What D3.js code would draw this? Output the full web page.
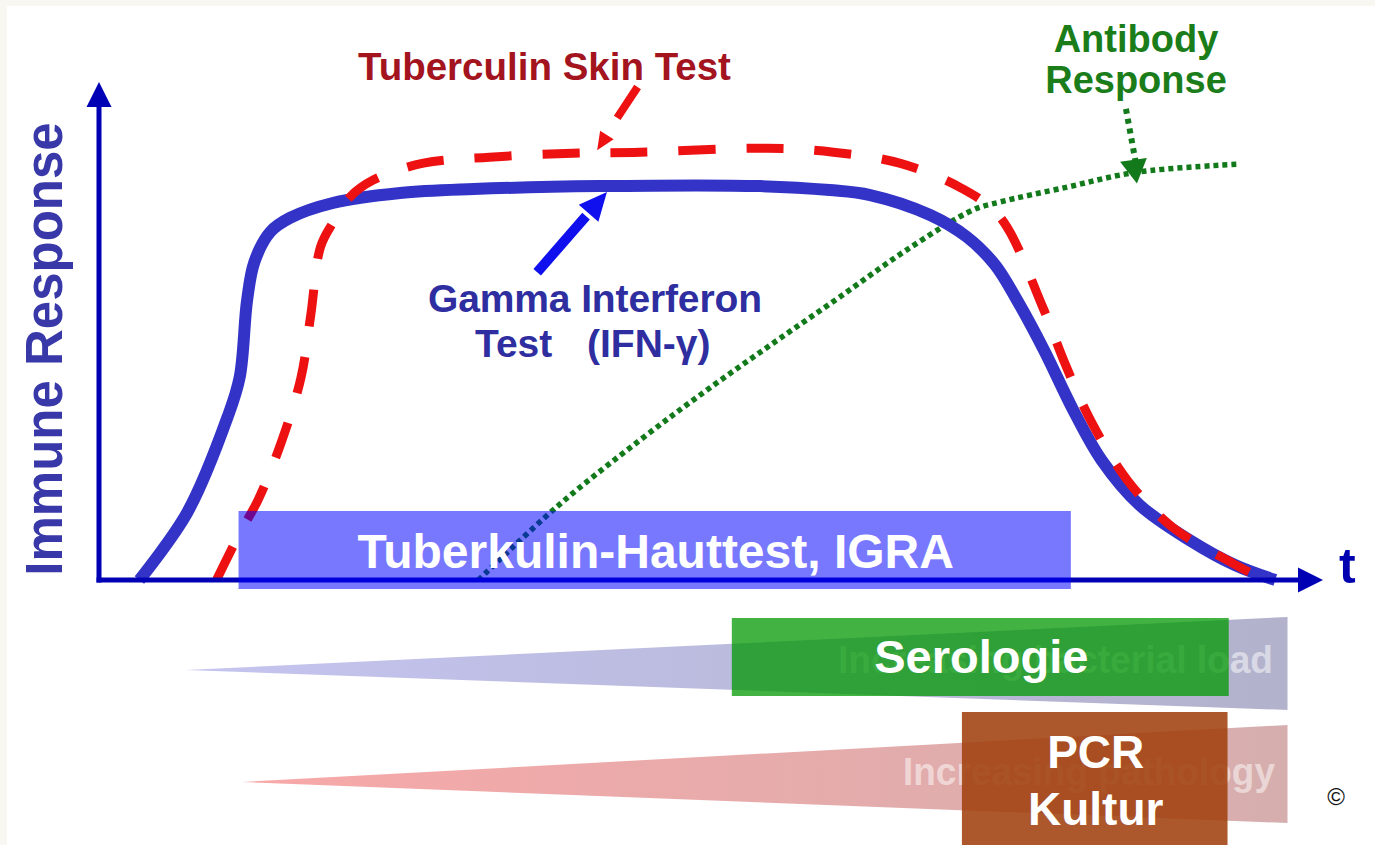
<!DOCTYPE html>
<html>
<head>
<meta charset="utf-8">
<script src="https://cdn.jsdelivr.net/npm/d3@7"></script>
<style>
  body { margin: 0; background: #fff; }
  svg { display: block; font-family: "Liberation Sans", Arial, sans-serif; font-weight: bold; }
</style>
</head>
<body>
<div id="chart-area"></div>
<script>
// time (0..100) and immune response (0..100)

// Gamma interferon test (solid blue)
let ifnT = [3.3, 7.2, 10.5, 11.5, 12.1, 12.7, 14.0, 15.6, 19.1, 24.6, 30.6, 40.9, 54.0, 59.7, 63.0, 67.9, 70.9, 73.2, 75.0, 77.2, 79.6, 81.9, 85.0, 89.1, 92.8, 96.1];
let ifnR = [0, 13.5, 32.7, 40.8, 56.2, 63.9, 69.9, 72.7, 75.7, 77.7, 78.5, 79.1, 79.1, 78.3, 77.3, 73.3, 68.9, 63.3, 56.2, 46.2, 34.1, 24.1, 15.1, 8.0, 3.0, 0];

// Tuberculin skin test (red dashed)
let tstT = [9.6, 11.5, 13.0, 14.9, 16.5, 17.3, 18.1, 19.1, 20.5, 22.4, 26.5, 31.9, 38.7, 44.2, 54.6, 60.0, 65.4, 70.3, 73.6, 77.1, 78.8, 81.0, 84.0, 87.7, 92.6, 94.9];
let tstR = [0, 9.4, 16.1, 27.7, 40.6, 53.2, 66.9, 71.7, 76.9, 80.3, 83.7, 84.9, 85.7, 85.9, 86.7, 85.9, 83.7, 78.9, 72.9, 54.8, 44.2, 32.1, 20.1, 10.6, 3.4, 0.4];

// Antibody response (green dotted)
let abT = [31.0, 37.4, 44.2, 49.7, 55.1, 60.5, 66.0, 71.4, 73.6, 79.1, 84.8, 93.2];
let abR = [0, 14.7, 28.1, 38.2, 47.6, 56.8, 66.3, 74.3, 75.9, 78.9, 81.9, 83.5];

// test windows on the time axis
let tests = ["Tuberkulin-Hauttest, IGRA", "Serologie", "PCR\nKultur"];
let testStart = [11.4, 51.7, 70.5];
let testEnd = [79.4, 92.3, 92.2];

// growing bands under the axis
let bands = ["Increasing bacterial load", "Increasing pathology"];
let bandStart = [7.1, 11.7];
let bandEnd = [97.1, 97.1];

// Variable
let w = 1375;
let h = 845;

let svg = d3.select("#chart-area")
    .append("svg")
    .attr("width", w)
    .attr("height", h);

// light frame at top/left
svg.append("rect").attr("width", w).attr("height", h).attr("fill", "#f8f7f2");
svg.append("rect").attr("x", 7).attr("y", 6).attr("width", w - 7).attr("height", h - 6).attr("fill", "#fff");

let x = d3.scaleLinear().domain([0, 100]).range([99, 1323]);
let y = d3.scaleLinear().domain([0, 100]).range([580, 82]);

let defs = svg.append("defs");
function grad(id, c1, c2) {
  let g = defs.append("linearGradient").attr("id", id);
  g.append("stop").attr("offset", "0%").attr("stop-color", c1);
  g.append("stop").attr("offset", "100%").attr("stop-color", c2);
}
grad("gBlue", "#c4c4f0", "#b2b2cc");
grad("gRed", "#f8a8a8", "#d6aeae");

// bands
let bandGeo = [
  {tip: 670, top: 617, bot: 710, fill: "url(#gBlue)", textEnd: 1273, base: 673, tlen: 435},
  {tip: 782, top: 725, bot: 823, fill: "url(#gRed)", textEnd: 1275, base: 785, tlen: 372}
];
bands.forEach(function(b, i) {
  let g = bandGeo[i];
  let x0 = x(bandStart[i]), x1 = x(bandEnd[i]);
  svg.append("polygon")
    .attr("points", [[x0, g.tip], [x1, g.top], [x1, g.bot]].join(" "))
    .attr("fill", g.fill);
  svg.append("text")
    .attr("x", g.textEnd - g.tlen)
    .attr("y", g.base)
    .attr("font-size", 39)
    .attr("textLength", g.tlen)
    .attr("lengthAdjust", "spacingAndGlyphs")
    .attr("fill", "#fff")
    .attr("fill-opacity", 0.5)
    .text(b);
});

// lines
function pts(ts, rs) { return ts.map(function(t, i) { return [t, rs[i]]; }); }
let line = d3.line()
    .x(function(d) { return x(d[0]); })
    .y(function(d) { return y(d[1]); })
    .curve(d3.curveCatmullRom.alpha(0.5));

svg.append("path")
    .attr("d", line(pts(abT, abR)))
    .attr("fill", "none")
    .attr("stroke", "#127a1a")
    .attr("stroke-width", 5.5)
    .attr("stroke-dasharray", "5,4");

svg.append("path")
    .attr("d", line(pts(ifnT, ifnR)))
    .attr("fill", "none")
    .attr("stroke", "#3333c8")
    .attr("stroke-width", 12)
    .attr("stroke-linejoin", "round");

svg.append("path")
    .attr("d", line(pts(tstT, tstR)))
    .attr("fill", "none")
    .attr("stroke", "#ee1111")
    .attr("stroke-width", 9)
    .attr("stroke-dasharray", "37,31");

// arrow heads
function head(x1, y1, x2, y2, len, wid) {
  let a = Math.atan2(y2 - y1, x2 - x1);
  let bx = x2 - len * Math.cos(a), by = y2 - len * Math.sin(a);
  let px = Math.sin(a) * wid / 2, py = -Math.cos(a) * wid / 2;
  return [[x2, y2], [bx + px, by + py], [bx - px, by - py]].join(" ");
}

// axes
let axCol = "#0000b4";
svg.append("line")
    .attr("x1", x(0)).attr("y1", y(0) + 2.5)
    .attr("x2", x(0)).attr("y2", y(100) + 22)
    .attr("stroke", axCol).attr("stroke-width", 5);
svg.append("polygon").attr("points", head(x(0), y(0), x(0), y(100), 25, 25)).attr("fill", axCol);
svg.append("line")
    .attr("x1", x(0) - 2.5).attr("y1", y(0))
    .attr("x2", x(100) - 22).attr("y2", y(0))
    .attr("stroke", axCol).attr("stroke-width", 5);
svg.append("polygon").attr("points", head(x(0), y(0), x(100), y(0), 25, 25)).attr("fill", axCol);

svg.append("text")
    .attr("x", 1339).attr("y", 583)
    .attr("font-size", 50)
    .attr("fill", "#0000b0")
    .text("t");

svg.append("text")
    .attr("transform", "translate(62,349) rotate(-90)")
    .attr("text-anchor", "middle")
    .attr("font-size", 51)
    .attr("fill", "#3838a8")
    .text("Immune Response");

// annotation arrows (tail -> tip, in chart units)
// gamma interferon
let gA = [x(35.8), y(61.8), x(41.5), y(77.9)];
svg.append("line")
    .attr("x1", gA[0]).attr("y1", gA[1])
    .attr("x2", gA[0] + (gA[2] - gA[0]) * 0.7).attr("y2", gA[1] + (gA[3] - gA[1]) * 0.7)
    .attr("stroke", "#1010ee").attr("stroke-width", 10);
svg.append("polygon").attr("points", head(gA[0], gA[1], gA[2], gA[3], 28, 26)).attr("fill", "#1010ee");

// tuberculin
let tA = [x(44.0), y(99.0), x(40.7), y(86.3)];
svg.append("line")
    .attr("x1", tA[0]).attr("y1", tA[1])
    .attr("x2", tA[2] + 8).attr("y2", tA[3] - 14)
    .attr("stroke", "#ee1111").attr("stroke-width", 8)
    .attr("stroke-dasharray", "37,31");
svg.append("polygon").attr("points", head(tA[0], tA[1], tA[2], tA[3], 18, 16)).attr("fill", "#ee1111");

// antibody
let aA = [x(83.9), y(94.6), x(84.8), y(79.6)];
svg.append("line")
    .attr("x1", aA[0]).attr("y1", aA[1])
    .attr("x2", aA[2] - 1).attr("y2", aA[3] - 20)
    .attr("stroke", "#127a1a").attr("stroke-width", 6)
    .attr("stroke-dasharray", "5,5");
svg.append("polygon").attr("points", head(aA[0], aA[1], aA[2], aA[3], 24, 27)).attr("fill", "#127a1a");

// labels
svg.append("text")
    .attr("x", 358).attr("y", 80)
    .attr("font-size", 38.5)
    .attr("fill", "#a3141e")
    .text("Tuberculin Skin Test");

svg.append("text")
    .attr("text-anchor", "middle")
    .attr("font-size", 38)
    .attr("fill", "#1a7d1a")
    .selectAll("tspan")
    .data(["Antibody", "Response"])
    .enter()
    .append("tspan")
    .attr("x", 1136)
    .attr("y", function(d, i) { return 52 + i * 41; })
    .text(function(d) { return d; });

svg.append("text")
    .attr("x", 428).attr("y", 312)
    .attr("font-size", 39)
    .attr("fill", "#2e2ea0")
    .attr("textLength", 334)
    .text("Gamma Interferon");
svg.append("text")
    .attr("x", 475).attr("y", 357)
    .attr("font-size", 39)
    .attr("fill", "#2e2ea0")
    .text("Test");
svg.append("text")
    .attr("x", 587).attr("y", 357)
    .attr("font-size", 39)
    .attr("fill", "#2e2ea0")
    .text("(IFN-γ)");

// test boxes
let boxGeo = [
  {top: 511, bot: 589, fill: "#0000ff", op: 0.53, size: 48, base: [568]},
  {top: 618, bot: 696, fill: "#009800", op: 0.74, size: 47, base: [673]},
  {top: 712, bot: 845, fill: "#a0410f", op: 0.88, size: 46, base: [768, 825]}
];
tests.forEach(function(t, i) {
  let g = boxGeo[i];
  let x0 = x(testStart[i]), x1 = x(testEnd[i]);
  svg.append("rect")
    .attr("x", x0).attr("y", g.top)
    .attr("width", x1 - x0).attr("height", g.bot - g.top)
    .attr("fill", g.fill).attr("fill-opacity", g.op);
  let lines = t.split("\n");
  lines.forEach(function(l, j) {
    svg.append("text")
      .attr("x", (x0 + x1) / 2 + 1)
      .attr("y", g.base[j])
      .attr("text-anchor", "middle")
      .attr("font-size", g.size)
      .attr("fill", "#fff")
      .text(l);
  });
});

svg.append("text")
    .attr("x", 1336).attr("y", 805)
    .attr("text-anchor", "middle")
    .attr("font-size", 24)
    .attr("font-weight", "normal")
    .attr("fill", "#111")
    .text("©");
</script>
</body>
</html>
